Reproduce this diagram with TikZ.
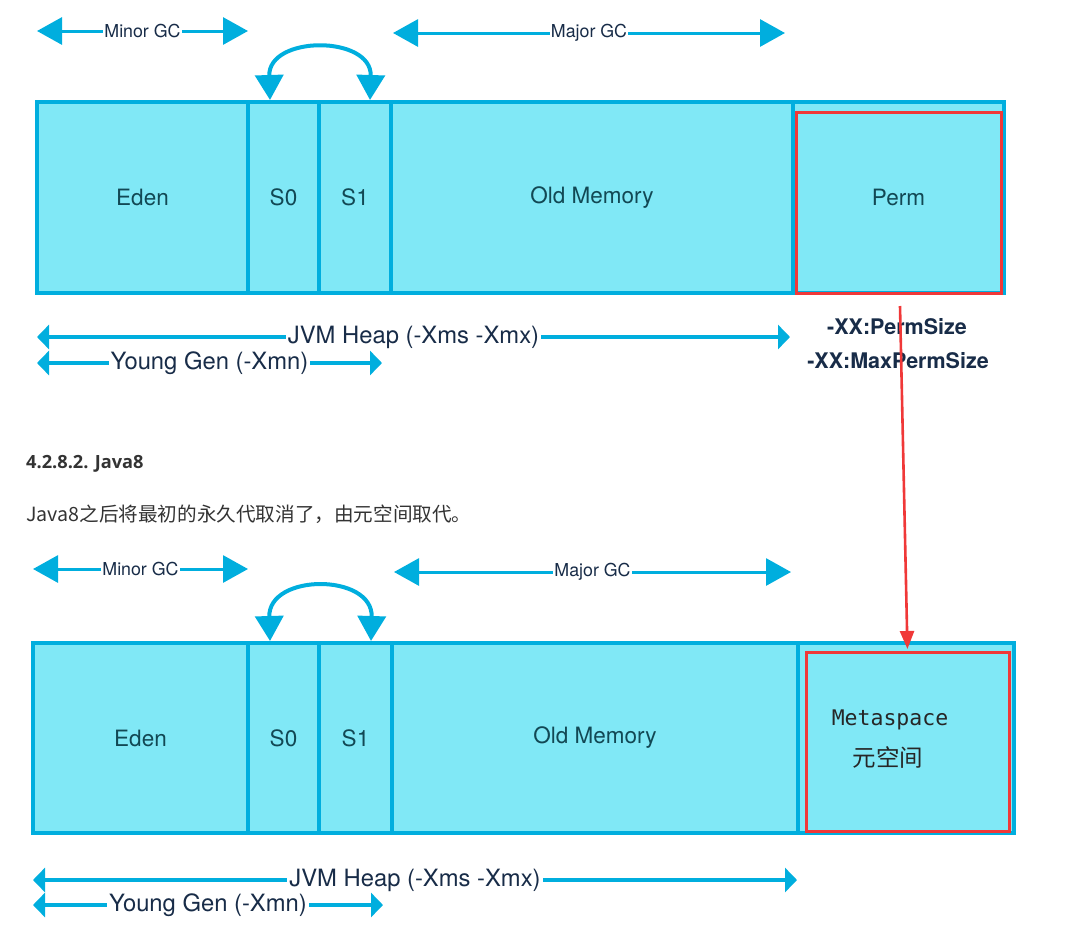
\documentclass[tikz,border=0pt]{standalone}
\usepackage{fontspec}
\setmainfont{TeX Gyre Heros}
\newfontfamily\opensansfont{Open Sans}
\newfontfamily\cjkfont{Noto Sans CJK SC}
\newfontfamily\dvmono{DejaVu Sans Mono}
\usetikzlibrary{arrows.meta}
\definecolor{cellfill}{RGB}{128,232,246}
\definecolor{cellline}{RGB}{0,174,222}
\definecolor{celltext}{RGB}{18,72,84}
\definecolor{lbltext}{RGB}{24,44,72}
\definecolor{redline}{RGB}{240,56,56}
\definecolor{bodytext}{RGB}{51,51,51}
\begin{document}
\begin{tikzpicture}[x=1pt,y=-1pt,
  cell/.style={draw=cellline, fill=cellfill, line width=4pt, inner sep=0pt, outer sep=0pt,
    text=celltext, font=\fontsize{22.5}{26}\selectfont, anchor=north west},
  redbox/.style={draw=redline, line width=3pt, inner sep=0pt, outer sep=0pt, anchor=north west},
  gcarrow/.style={draw=cellline, line width=3pt,
    {Triangle[length=25pt,width=27pt]}-{Triangle[length=25pt,width=27pt]}},
  gclabel/.style={fill=white, inner sep=1pt, text=lbltext, font=\fontsize{17.8}{20}\selectfont},
  heaparrow/.style={draw=cellline, line width=4pt,
    {Triangle[length=12pt,width=24pt]}-{Triangle[length=12pt,width=24pt]}},
  heaplabel/.style={fill=white, inner sep=2pt, text=lbltext, font=\fontsize{23.8}{26}\selectfont},
  swaparrow/.style={draw=cellline, line width=4pt,
    {Triangle[length=25pt,width=28pt]}-{Triangle[length=25pt,width=28pt]}},
  optlabel/.style={text=lbltext, inner sep=0pt, font=\bfseries\fontsize{21.5}{24}\selectfont},
  redarrow/.style={draw=redline, line width=2.6pt, -{Triangle[length=18pt,width=14pt]}, shorten >=3pt}
]
\useasboundingbox (0,0) rectangle (1071,935);

% ---------- top diagram ----------
\node[cell, minimum width=211pt, minimum height=191pt] (eden1) at (37,102) {Eden};
\node[cell, minimum width=71pt,  minimum height=191pt] (s01)   at (248,102) {S0};
\node[cell, minimum width=72pt,  minimum height=191pt] (s11)   at (319,102) {S1};
\node[cell, minimum width=402pt, minimum height=191pt] (old1)  at (391,102) {Old Memory};
\node[cell, minimum width=211pt, minimum height=191pt] (perm1) at (793,102) {Perm};
\node[redbox, minimum width=205pt, minimum height=181pt] (permred) at (796,112) {};

\coordinate (minL1) at (37,31);  \coordinate (minR1) at (248,31);
\draw[gcarrow] (minL1) -- node[gclabel] {Minor GC} (minR1);
\coordinate (majL1) at (393,33); \coordinate (majR1) at (785,33);
\draw[gcarrow] (majL1) -- node[gclabel] {Major GC} (majR1);

\coordinate (swL1) at (270,100); \coordinate (swR1) at (370,100);
\draw[swaparrow] (swL1) .. controls (268,35) and (372,35) .. (swR1);

\coordinate (jvmL1) at (37,337); \coordinate (jvmR1) at (790,337);
\draw[heaparrow] (jvmL1) -- node[heaplabel] {JVM Heap (-Xms -Xmx)} (jvmR1);
\coordinate (ygL1) at (37,363); \coordinate (ygR1) at (382,363);
\draw[heaparrow] (ygL1) -- node[heaplabel] {Young Gen (-Xmn)} (ygR1);

\node[optlabel] (permsize) at (897,327) {-XX:PermSize};
\node[optlabel] (maxpermsize) at (898,361) {-XX:MaxPermSize};

% ---------- text ----------
\node[anchor=west, inner sep=0pt, text=bodytext, font=\opensansfont\bfseries\fontsize{18.2}{21}\selectfont] (head) at (26,464) {4.2.8.2. Java8};
\node[anchor=west, inner sep=0pt, text=bodytext, font=\cjkfont\fontsize{19.6}{23}\selectfont] (intro) at (26,514) {Java8之后将最初的永久代取消了，由元空间取代。};

% ---------- bottom diagram ----------
\node[cell, minimum width=215pt, minimum height=190pt] (eden2) at (33,643) {Eden};
\node[cell, minimum width=71pt,  minimum height=190pt] (s02)   at (248,643) {S0};
\node[cell, minimum width=73pt,  minimum height=190pt] (s12)   at (319,643) {S1};
\node[cell, minimum width=406pt, minimum height=190pt] (old2)  at (392,643) {Old Memory};
\node[cell, minimum width=216pt, minimum height=190pt] (meta2) at (798,643) {};
\node[redbox, minimum width=203pt, minimum height=179pt] (metared) at (806,652) {};
\node[text=black!85, inner sep=0pt, font=\dvmono\fontsize{21.5}{24}\selectfont] (metatxt) at (890,720) {Metaspace};
\node[text=black!85, inner sep=0pt, font=\cjkfont\fontsize{23.5}{26}\selectfont] (metacn) at (888,757) {元空间};

\coordinate (minL2) at (33,569);  \coordinate (minR2) at (248,569);
\draw[gcarrow] (minL2) -- node[gclabel] {Minor GC} (minR2);
\coordinate (majL2) at (394,572); \coordinate (majR2) at (791,572);
\draw[gcarrow] (majL2) -- node[gclabel] {Major GC} (majR2);

\coordinate (swL2) at (270,641); \coordinate (swR2) at (371,641);
\draw[swaparrow] (swL2) .. controls (268,573) and (373,573) .. (swR2);

\coordinate (jvmL2) at (33,880); \coordinate (jvmR2) at (797,880);
\draw[heaparrow] (jvmL2) -- node[heaplabel] {JVM Heap (-Xms -Xmx)} (jvmR2);
\coordinate (ygL2) at (33,905); \coordinate (ygR2) at (383,905);
\draw[heaparrow] (ygL2) -- node[heaplabel] {Young Gen (-Xmn)} (ygR2);

% ---------- red connector ----------
\coordinate (redtail) at (900,306);
\draw[redarrow] (redtail) -- (metared.north);
\end{tikzpicture}
\end{document}
